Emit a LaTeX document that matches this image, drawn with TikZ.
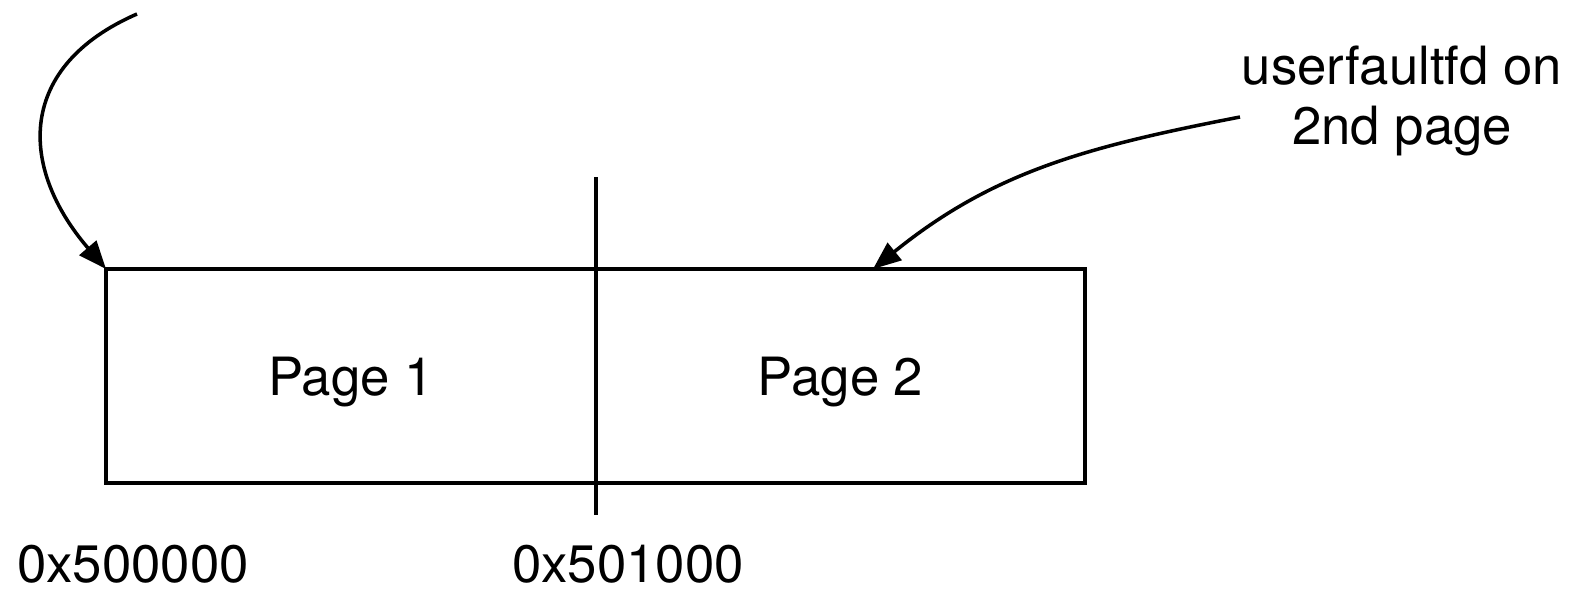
\documentclass[tikz,border=0pt]{standalone}
\usepackage{fontspec}
\setmainfont{TeX Gyre Heros}
\usetikzlibrary{arrows.meta, positioning}

\begin{document}
\begin{tikzpicture}[
  line width=2pt,
  page/.style={rectangle, draw, outer sep=0pt, minimum height=4.28cm,
    minimum width=#1, text depth=0pt, font=\fontsize{30}{35}\selectfont},
  addr/.style={font=\fontsize{30}{35}\selectfont, inner sep=0pt},
  note/.style={font=\fontsize{30}{34}\selectfont, align=center, inner sep=0pt},
  arrow/.style={-{Triangle[length=0.56cm, width=0.44cm]}}
]
\useasboundingbox (0,0) rectangle (31.56,11.82);

% the two pages
\node[page=9.8cm] (page1) at (7.02,4.30) {Page 1};
\node[page=9.78cm, right=0cm of page1] (page2) {Page 2};

% boundary between the pages
\coordinate (divtop) at ([yshift=1.84cm]page1.north east);
\coordinate (divbot) at ([yshift=-0.64cm]page1.south east);
\draw (divtop) -- (divbot);

% addresses
\node[addr] (base) at (2.66,0.54) {0x500000};
\node[addr] (second) at (12.56,0.54) {0x501000};

% arrows
\coordinate (from1) at (2.74,11.54);
\draw[arrow] (from1) .. controls (0.35,10.5) and (0.35,8.5) .. (page1.north west);

\node[note] (uffd) at (28.04,9.80) {userfaultfd on\\2nd page};
\coordinate (from2) at (24.80,9.48);
\coordinate (hit2) at ([xshift=5.54cm]page2.north west);
\draw[arrow] (from2) to[out=191, in=39] (hit2);
\end{tikzpicture}
\end{document}
